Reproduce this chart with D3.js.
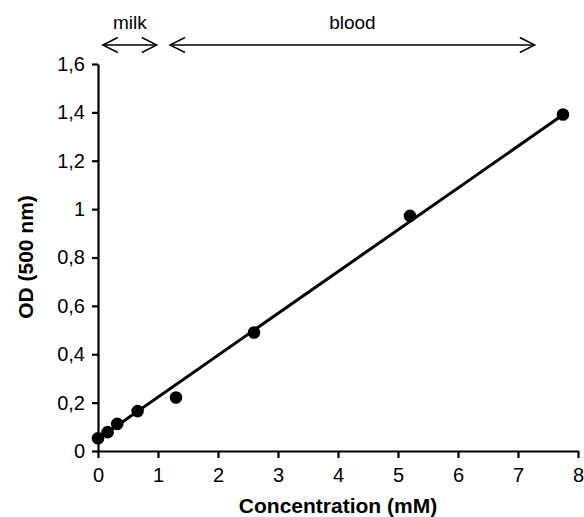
<!DOCTYPE html>
<html lang="en">
<head>
    <meta charset="UTF-8">
    <script src="https://d3js.org/d3.v7.min.js"></script>
    <title>OD vs concentration</title>
    <style>
        body {
            margin: 0;
            background: #fff;
            font-family: "Liberation Sans", Arial, sans-serif;
        }
    </style>
</head>
<body>
<div id="my_dataviz"></div>
<script>

    // measured points
    var concentration = [0, 0.16, 0.32, 0.66, 1.3, 2.6, 5.2, 7.75];
    var od = [0.053, 0.078, 0.112, 0.165, 0.221, 0.49, 0.972, 1.391];

    // fitted line ends
    var fitX = [0, 7.75];
    var fitY = [0.05, 1.39];

    // ranges marked above the plot
    var rangeNames = ["milk", "blood"];
    var rangeFrom = [0.08, 1.2];
    var rangeTo = [0.98, 7.28];

    var xTicks = [0, 1, 2, 3, 4, 5, 6, 7, 8];
    var yTicks = [0, 0.2, 0.4, 0.6, 0.8, 1, 1.2, 1.4, 1.6];

    // plot area: origin at (98, 451)
    var margin = {top: 64, left: 98},
        width = 480,
        height = 387;

    var svg = d3.select("#my_dataviz")
        .append("svg")
        .attr("width", 584)
        .attr("height", 517)
        .append("g")
        .attr("transform", "translate(" + margin.left + "," + margin.top + ")");

    var x = d3.scaleLinear().domain([0, 8]).range([0, width]);
    var y = d3.scaleLinear().domain([0, 1.6]).range([height, 0]);

    var fmt = function(d) { return String(d).replace(".", ","); };

    // X axis
    var gx = svg.append("g")
        .attr("transform", "translate(0," + height + ")")
        .call(d3.axisBottom(x).tickValues(xTicks).tickFormat(fmt).tickSizeInner(7).tickSizeOuter(0).tickPadding(10));
    // Y axis
    var gy = svg.append("g")
        .call(d3.axisLeft(y).tickValues(yTicks).tickFormat(fmt).tickSizeInner(6).tickSizeOuter(0).tickPadding(7));

    [gx, gy].forEach(function(g) {
        g.select(".domain").attr("stroke-width", 2.2);
        g.selectAll(".tick line").attr("stroke-width", 2.2);
        g.selectAll(".tick text").attr("fill", "#000")
            .style("font-family", "'Liberation Sans', Arial, sans-serif")
            .style("font-size", "20px");
    });

    // titles
    svg.append("text")
        .attr("x", x(4))
        .attr("y", 513 - margin.top)
        .attr("text-anchor", "middle")
        .style("font-size", "21px")
        .style("font-weight", "bold")
        .text("Concentration (mM)");

    svg.append("text")
        .attr("transform", "translate(" + (33 - margin.left) + "," + (257 - margin.top) + ") rotate(-90)")
        .attr("text-anchor", "middle")
        .style("font-size", "21px")
        .style("font-weight", "bold")
        .text("OD (500 nm)");

    // fitted line
    svg.append("path")
        .datum(d3.zip(fitX, fitY))
        .attr("fill", "none")
        .attr("stroke", "#000")
        .attr("stroke-width", 3)
        .attr("d", d3.line()
            .x(function(d) { return x(d[0]); })
            .y(function(d) { return y(d[1]); }));

    // points
    svg.selectAll("circle.pt")
        .data(d3.zip(concentration, od))
        .enter()
        .append("circle")
        .attr("class", "pt")
        .attr("cx", function(d) { return x(d[0]); })
        .attr("cy", function(d) { return y(d[1]); })
        .attr("r", 6.3)
        .attr("fill", "#000");

    // range arrows
    var arrowY = 45 - margin.top;
    rangeNames.forEach(function(name, i) {
        var x0 = x(rangeFrom[i]), x1 = x(rangeTo[i]);
        var g = svg.append("g")
            .attr("fill", "none")
            .attr("stroke", "#000")
            .attr("stroke-width", 1.4);
        g.append("line")
            .attr("x1", x0).attr("x2", x1)
            .attr("y1", arrowY).attr("y2", arrowY);
        g.append("path")
            .attr("d", "M" + (x0 + 15) + "," + (arrowY - 7.5) + "L" + x0 + "," + arrowY + "L" + (x0 + 15) + "," + (arrowY + 7.5));
        g.append("path")
            .attr("d", "M" + (x1 - 15) + "," + (arrowY - 7.5) + "L" + x1 + "," + arrowY + "L" + (x1 - 15) + "," + (arrowY + 7.5));
        svg.append("text")
            .attr("x", (x0 + x1) / 2)
            .attr("y", 29 - margin.top)
            .attr("text-anchor", "middle")
            .style("font-size", "19px")
            .text(name);
    });

</script>
</body>
</html>
